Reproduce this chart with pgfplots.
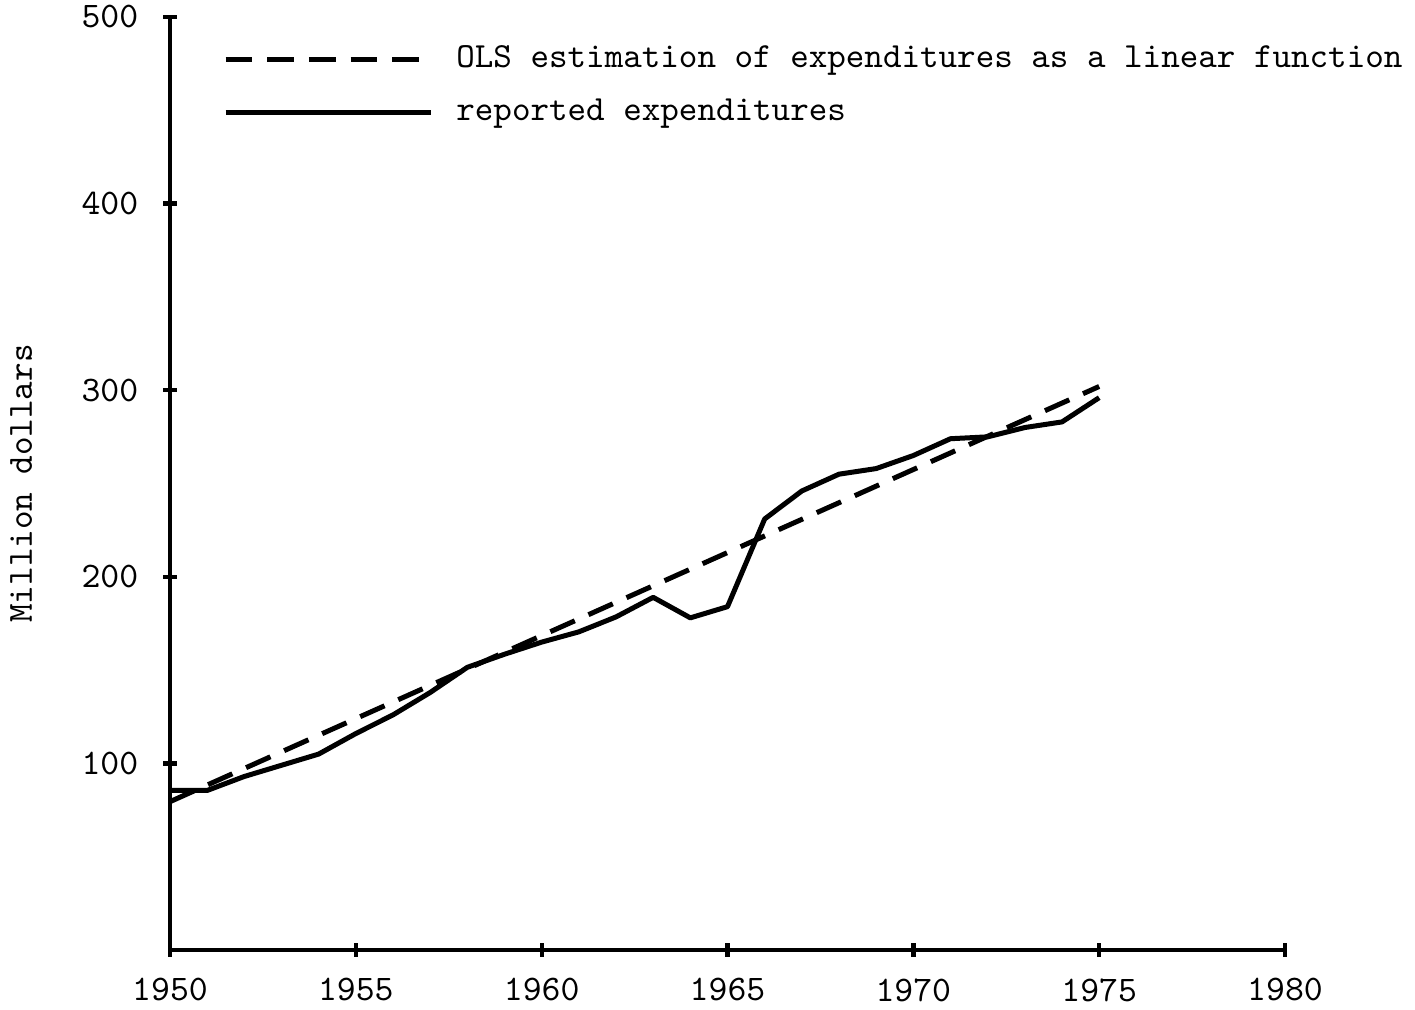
\documentclass[border=0pt]{standalone}
\usepackage{pgfplots}
\pgfplotsset{compat=1.18}
\begin{document}
\begin{tikzpicture}
\useasboundingbox (0pt,0pt) rectangle (424.5pt,302.7pt);
\begin{axis}[
  at={(51pt,17.7pt)}, anchor=south west,
  width=334.5pt, height=279.9pt, scale only axis,
  xmin=1950, xmax=1980, ymin=0, ymax=500,
  axis x line=bottom, axis y line=left,
  axis line style={line width=1.3pt,-},
  xtick={1950,1955,...,1980}, ytick={100,200,...,500},
  tick align=center, major tick length=4pt,
  tick style={line width=1.3pt,black},
  ticklabel style={font=\fontsize{10.8}{13}\selectfont\ttfamily},
  /pgf/number format/assume math mode=true,
  /pgf/number format/1000 sep={},
  xticklabel style={yshift=-3pt},
  yticklabel style={xshift=-4pt},
  ylabel={Million dollars},
  ylabel style={font=\fontsize{10.6}{13}\selectfont\ttfamily, yshift=8pt},
  legend style={draw=none, fill=none, at={(axis description cs:0.038,0.984)}, anchor=north west,
    font=\fontsize{10.6}{13}\selectfont\ttfamily, row sep=3.8pt, legend cell align=left},
  legend image code/.code={\draw[#1] (0pt,0pt) -- (61.5pt,0pt); \path (66.5pt,0pt);},
]
\addplot[black, line width=1.5pt, dash pattern=on 8pt off 4.5pt] coordinates {(1950,79.5) (1975,302)};
\addlegendentry{OLS estimation of expenditures as a linear function}
\addplot[black, line width=1.5pt, line join=round] coordinates {
(1950,85.5) (1951,85.5) (1952,93) (1953,99) (1954,105) (1955,116) (1956,126) (1957,138)
(1958,151.5) (1959,158.5) (1960,165) (1961,170.5) (1962,178.5) (1963,189) (1964,178)
(1965,184) (1966,231) (1967,246) (1968,255) (1969,258) (1970,265) (1971,274)
(1972,275) (1973,280) (1974,283) (1975,296)};
\addlegendentry{reported expenditures}
\end{axis}
\end{tikzpicture}
\end{document}
